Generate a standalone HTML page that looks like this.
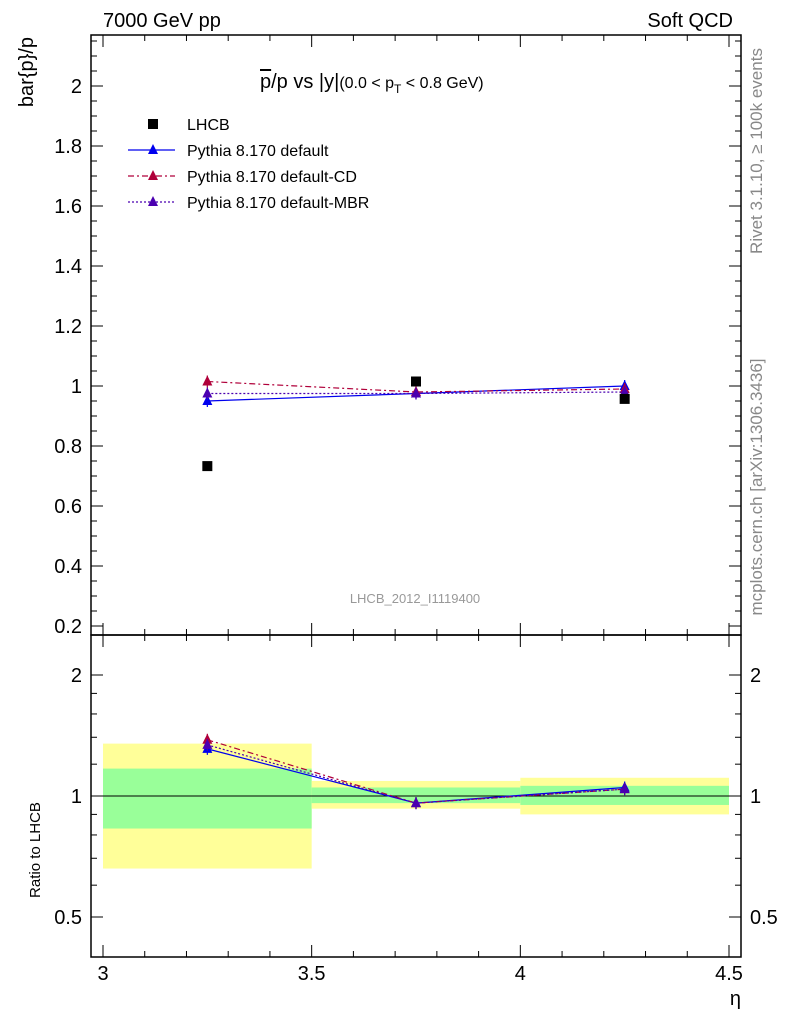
<!DOCTYPE html>
<html><head><meta charset="utf-8"><style>
body{margin:0;background:#fff;}
svg text{font-family:"Liberation Sans","DejaVu Sans",sans-serif;}
</style></head><body>
<svg id="c" width="786" height="1024" xmlns="http://www.w3.org/2000/svg">
<g id="bands"></g>
<g id="marks"></g>
<g id="axes"></g>
<text x="103" y="27" font-size="20">7000 GeV pp</text>
<text x="733" y="27" font-size="20" text-anchor="end">Soft QCD</text>
<text x="260" y="88" font-size="20"><tspan text-decoration="overline">p</tspan>/p vs |y|<tspan font-size="16">(0.0 &lt; p</tspan><tspan font-size="12" dy="5">T</tspan><tspan font-size="16" dy="-5"> &lt; 0.8 GeV)</tspan></text>
<text x="33" y="37" font-size="20" text-anchor="end" transform="rotate(-90 33 37)">bar{p}/p</text>
<text x="40" y="850" font-size="15" text-anchor="middle" transform="rotate(-90 40 850)">Ratio to LHCB</text>
<text x="741" y="1005" font-size="20" text-anchor="end">η</text>
<text x="415" y="603" font-size="13" fill="#999" text-anchor="middle">LHCB_2012_I1119400</text>
<text x="762" y="151" font-size="17" fill="#888" text-anchor="middle" transform="rotate(-90 762 151)">Rivet 3.1.10, ≥ 100k events</text>
<text x="762" y="487" font-size="17" fill="#888" text-anchor="middle" transform="rotate(-90 762 487)">mcplots.cern.ch [arXiv:1306.3436]</text>
<g id="legend"></g>
</svg>
<script>
const xCenters=[3.25,3.75,4.25];
const binEdges=[3,3.5,4,4.5];
const lhcb=[0.733,1.015,0.957];
const pyDefault=[0.950,0.975,1.000];
const pyCD=[1.015,0.980,0.990];
const pyMBR=[0.975,0.975,0.980];
const ratioDefault=[1.31,0.96,1.05];
const ratioCD=[1.38,0.96,1.04];
const ratioMBR=[1.34,0.96,1.04];
const yellowLo=[0.66,0.93,0.90];
const yellowHi=[1.35,1.09,1.11];
const greenLo=[0.83,0.96,0.95];
const greenHi=[1.17,1.05,1.06];
const xTicks=[3,3.5,4,4.5];
const yTicks=[0.2,0.4,0.6,0.8,1,1.2,1.4,1.6,1.8,2];
const rTicks=[0.5,1,2];

const NS="http://www.w3.org/2000/svg";
const X=v=>103+(v-3)*626/1.5;
const Y=v=>386-(v-1)*300;
const R=v=>796-Math.log2(v)*121;
function el(t,a,p){const e=document.createElementNS(NS,t);for(const k in a)e.setAttribute(k,a[k]);document.getElementById(p).appendChild(e);return e;}

for(let i=0;i<3;i++){
 let e=el('rect',{x:X(binEdges[i]),y:R(yellowHi[i]),width:X(binEdges[i+1])-X(binEdges[i]),height:R(yellowLo[i])-R(yellowHi[i]),fill:'#ffff99'},'bands');
 
 
 e=el('rect',{x:X(binEdges[i]),y:R(greenHi[i]),width:X(binEdges[i+1])-X(binEdges[i]),height:R(greenLo[i])-R(greenHi[i]),fill:'#99ff99'},'bands');
 
 
}
let ln=el('line',{x1:91,x2:741,y1:R(1),y2:R(1),stroke:'#000','stroke-width':1},'bands');



[[35,635],[635,957]].forEach(([t,b])=>{let f=el('rect',{x:91,y:t,width:650,height:b-t,fill:'none',stroke:'#000','stroke-width':1.5},'axes');});

function tri(x,y,c,name){const e=el('polygon',{points:`${x},${y-6} ${x-5},${y+4} ${x+5},${y+4}`,fill:c},'marks');}
function series(vals,f,c,dash,name){
 const pts=xCenters.map((x,i)=>X(x)+','+f(vals[i])).join(' ');
 const p=el('polyline',{points:pts,fill:'none',stroke:c,'stroke-width':1.2,'stroke-dasharray':dash},'marks');
 
 
 xCenters.forEach((x,i)=>{const yy=f(vals[i]);const eb=el('line',{x1:X(x),x2:X(x),y1:yy-6,y2:yy+6,stroke:c,'stroke-width':1.2},'marks');tri(X(x),yy,c,name+'-point');});
}
series(pyDefault,Y,'#0000ee','','pythia-default');
series(pyCD,Y,'#b0003a','6,3,2,3','pythia-cd');
series(pyMBR,Y,'#4b00b0','2,2','pythia-mbr');
series(ratioDefault,R,'#0000ee','','ratio-default');
series(ratioCD,R,'#b0003a','6,3,2,3','ratio-cd');
series(ratioMBR,R,'#4b00b0','2,2','ratio-mbr');
xCenters.forEach((x,i)=>{const e=el('rect',{x:X(x)-5,y:Y(lhcb[i])-5,width:10,height:10,fill:'#000'},'marks');});

xTicks.forEach(v=>{
 [[635,-12],[35,12],[957,-12],[635,12]].forEach(([y,d])=>{const t=el('line',{x1:X(v),x2:X(v),y1:y,y2:y+d,stroke:'#000'},'axes');});
 const t=el('text',{x:X(v),y:980,'font-size':20,'text-anchor':'middle'},'axes');t.textContent=v;
});
for(let v=3.1;v<4.5;v+=0.1){if(Math.abs(v*2-Math.round(v*2))<0.01)continue;[[957,-6],[635,6],[635,-6],[35,6]].forEach(([y,d])=>el('line',{x1:X(v),x2:X(v),y1:y,y2:y+d,stroke:'#000'},'axes'));}
yTicks.forEach(v=>{
 el('line',{x1:91,x2:103,y1:Y(v),y2:Y(v),stroke:'#000'},'axes');el('line',{x1:741,x2:729,y1:Y(v),y2:Y(v),stroke:'#000'},'axes');
 const t=el('text',{x:82,y:Y(v)+7,'font-size':20,'text-anchor':'end'},'axes');t.textContent=v;
});
for(let v=0.25;v<2.2;v+=0.05){if(Math.abs(v*5-Math.round(v*5))<0.01)continue;el('line',{x1:91,x2:97,y1:Y(v),y2:Y(v),stroke:'#000'},'axes');el('line',{x1:741,x2:735,y1:Y(v),y2:Y(v),stroke:'#000'},'axes');}
rTicks.forEach(v=>{
 el('line',{x1:91,x2:103,y1:R(v),y2:R(v),stroke:'#000'},'axes');el('line',{x1:741,x2:729,y1:R(v),y2:R(v),stroke:'#000'},'axes');
 let t=el('text',{x:82,y:R(v)+7,'font-size':20,'text-anchor':'end'},'axes');t.textContent=v;
 t=el('text',{x:750,y:R(v)+7,'font-size':20},'axes');t.textContent=v;
});
[0.6,0.7,0.8,0.9,1.2,1.4,1.6,1.8].forEach(v=>{el('line',{x1:91,x2:97,y1:R(v),y2:R(v),stroke:'#000'},'axes');el('line',{x1:741,x2:735,y1:R(v),y2:R(v),stroke:'#000'},'axes');});

const leg=[['LHCB','#000',null,''],['Pythia 8.170 default','#0000ee','tri',''],['Pythia 8.170 default-CD','#b0003a','tri','6,3,2,3'],['Pythia 8.170 default-MBR','#4b00b0','tri','2,2']];
leg.forEach((L,i)=>{const y=124+i*26;
 if(!L[2]){el('rect',{x:148,y:y-5,width:10,height:10,fill:'#000'},'legend');}
 else{el('line',{x1:128,x2:175,y1:y,y2:y,stroke:L[1],'stroke-width':1.2,'stroke-dasharray':L[3]},'legend');el('polygon',{points:`153,${y-6} 148,${y+4} 158,${y+4}`,fill:L[1]},'legend');}
 const t=el('text',{x:187,y:y+6,'font-size':16},'legend');t.textContent=L[0];
});
</script>
</body></html>
